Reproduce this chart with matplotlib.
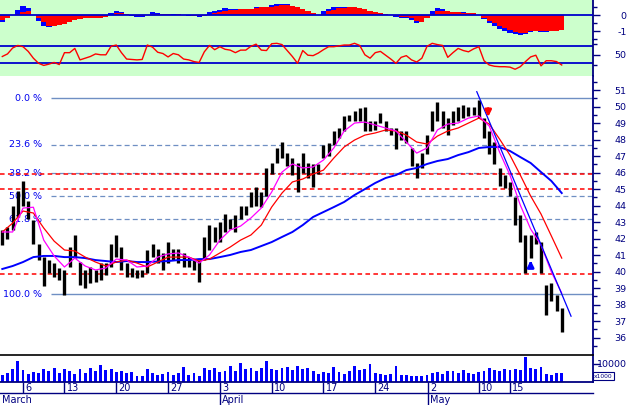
import matplotlib
matplotlib.use("Agg")
import matplotlib.pyplot as plt

# ---------------- data (bar index = half trading day) ----------------
bar_low = [
    41.6, 42.0, 42.5, 43.3, 44.0, 43.2, 41.7, 40.7, 39.1, 39.9,
    39.7, 39.5, 38.6, 40.3, 40.8, 39.2, 39.0, 39.3, 39.4, 39.5,
    39.8, 40.3, 40.9, 40.1, 39.7, 39.7, 39.6, 39.7, 39.9, 40.9,
    40.5, 40.1, 40.5, 40.7, 40.5, 40.3, 40.3, 40.1, 39.4, 40.7,
    41.3, 41.8, 41.8, 42.4, 42.6, 42.4, 43.2, 43.4, 43.9, 44.0,
    43.9, 44.6, 45.9, 46.6, 46.9, 46.4, 45.85, 44.8, 46.0, 45.7,
    45.1, 45.9, 46.9, 47.0, 47.7, 48.1, 48.5, 49.1, 49.1, 49.1,
    48.5, 48.5, 48.6, 49.0, 48.5, 48.3, 47.4, 48.0, 47.8, 46.4,
    45.7, 46.3, 47.1, 48.5, 49.1, 48.7, 48.3, 48.9, 49.1, 49.3,
    49.4, 49.5, 49.3, 48.1, 47.1, 46.5, 45.2, 45.05, 44.6, 42.8,
    41.8, 39.9, 40.8, 41.7, 39.9, 37.4, 38.2, 37.6, 36.35]
bar_high = [
    42.5, 42.7, 44.0, 44.9, 45.5, 44.3, 43.1, 41.7, 40.9, 40.7,
    40.5, 40.2, 40.1, 41.5, 42.2, 40.6, 40.1, 40.3, 40.1, 40.5,
    40.5, 41.7, 42.2, 41.5, 40.5, 40.2, 40.1, 40.1, 41.3, 41.7,
    41.4, 41.1, 41.8, 41.4, 41.4, 41.1, 40.9, 40.7, 40.7, 42.1,
    42.8, 42.7, 43.0, 43.5, 43.2, 43.4, 44.0, 44.0, 44.8, 45.1,
    44.8, 46.3, 46.6, 47.5, 47.85, 47.2, 46.9, 46.6, 47.2, 46.6,
    46.5, 46.5, 47.7, 47.8, 48.5, 48.7, 49.4, 49.5, 49.7, 49.9,
    50.0, 49.1, 49.1, 49.6, 49.1, 48.7, 48.7, 48.5, 48.5, 47.5,
    46.6, 47.2, 48.3, 49.7, 50.3, 49.7, 49.3, 49.7, 50.0, 50.1,
    50.0, 50.0, 50.4, 49.3, 48.5, 47.85, 46.3, 45.85, 45.4, 44.5,
    43.4, 42.2, 42.2, 42.4, 41.8, 39.2, 39.3, 38.6, 37.8]

ma_index = list(range(0, 109, 2))
ma_fast = [42.40, 42.40, 43.85, 43.90, 41.91, 40.95, 40.28, 40.82, 40.34, 40.10,
           40.22, 40.76, 40.70, 40.28, 40.34, 40.88, 41.07, 41.13, 40.88, 40.52,
           41.01, 41.91, 42.52, 42.76, 43.25, 43.85, 44.82, 46.03, 46.52, 46.28,
           46.34, 46.76, 47.49, 48.52, 49.00, 49.06, 48.88, 48.70, 48.52, 47.85,
           47.18, 47.49, 48.58, 48.94, 49.00, 49.30, 49.43, 48.82, 47.24, 45.85,
           44.03, 42.58, 41.61, 39.98, 38.70]
ma_mid = [42.40, 42.94, 43.67, 43.55, 42.64, 41.85, 41.31, 41.25, 40.88, 40.58,
          40.34, 40.58, 40.70, 40.52, 40.28, 40.58, 40.88, 40.88, 40.88, 40.64,
          40.76, 41.13, 41.49, 41.91, 42.22, 42.82, 43.91, 44.76, 45.43, 45.61,
          45.91, 46.15, 46.88, 47.55, 47.97, 48.27, 48.40, 48.58, 48.52, 48.27,
          47.85, 47.73, 48.21, 48.52, 48.70, 49.00, 49.30, 48.94, 48.03, 47.06,
          45.85, 44.58, 43.49, 42.16, 40.82]
ma_slow = [40.16, 40.34, 40.58, 40.88, 40.95, 40.95, 40.88, 40.88, 40.82, 40.70,
           40.64, 40.58, 40.64, 40.58, 40.58, 40.61, 40.64, 40.70, 40.70, 40.76,
           40.76, 40.88, 41.01, 41.19, 41.31, 41.55, 41.79, 42.10, 42.40, 42.82,
           43.31, 43.61, 43.91, 44.22, 44.64, 45.00, 45.37, 45.67, 45.85, 46.15,
           46.28, 46.52, 46.70, 46.82, 47.06, 47.24, 47.49, 47.55, 47.55, 47.31,
           46.94, 46.58, 46.03, 45.49, 44.76]

trend_x = [91.6, 109.8]
trend_y = [50.9, 37.3]

volume_k = [
    4.0, 5.0, 7.0, 11.5, 6.5, 4.5, 5.5, 5.0, 7.0, 6.0,
    7.5, 5.0, 7.0, 6.0, 4.5, 7.0, 5.0, 7.5, 6.0, 9.5,
    6.5, 7.0, 5.5, 6.0, 5.0, 5.5, 3.5, 3.0, 7.0, 5.0,
    4.0, 4.5, 5.5, 4.0, 5.0, 8.5, 4.0, 5.0, 3.5, 8.0,
    6.5, 7.5, 5.5, 6.0, 9.0, 6.0, 10.5, 7.0, 7.5, 6.0,
    8.0, 11.5, 7.0, 6.5, 7.5, 8.5, 6.5, 9.0, 7.0, 8.0,
    6.0, 4.5, 5.5, 5.0, 8.5, 5.5, 4.5, 6.0, 9.0, 6.5,
    7.0, 10.0, 5.0, 4.5, 4.0, 4.5, 9.0, 4.0, 4.0, 3.5,
    3.5, 3.0, 4.0, 5.0, 5.5, 4.5, 6.0, 6.0, 5.0, 6.5,
    5.0, 4.5, 5.5, 6.0, 8.0, 6.5, 6.0, 7.0, 6.5, 7.0,
    6.5, 14.0, 8.0, 7.0, 8.5, 4.5, 4.0, 5.0, 5.0]

macd_blue = [
    -0.45, -0.20, 0.05, 0.35, 0.60, 0.45, 0.05, -0.35, -0.70, -0.72,
    -0.62, -0.60, -0.50, -0.35, -0.20, -0.20, -0.15, -0.15, -0.15, -0.12,
    -0.05, 0.15, 0.30, 0.20, 0.05, -0.05, -0.08, -0.08, 0.05, 0.20,
    0.15, 0.10, 0.05, 0.08, 0.08, 0.02, -0.02, -0.05, -0.10, 0.00,
    0.20, 0.30, 0.35, 0.45, 0.40, 0.38, 0.40, 0.42, 0.42, 0.55,
    0.55, 0.50, 0.65, 0.75, 0.75, 0.70, 0.55, 0.35, 0.30, 0.20,
    0.10, 0.05, 0.25, 0.40, 0.50, 0.50, 0.50, 0.52, 0.50, 0.45,
    0.30, 0.25, 0.15, 0.12, 0.08, 0.05, -0.10, -0.15, -0.15, -0.30,
    -0.50, -0.45, -0.10, 0.25, 0.45, 0.40, 0.25, 0.20, 0.20, 0.18,
    0.15, 0.15, 0.05, -0.25, -0.50, -0.65, -0.85, -1.00, -1.10, -1.20,
    -1.25, -1.20, -1.05, -1.00, -1.05, -1.05, -1.00, -1.00, -0.95]
macd_red = [
    -0.30, -0.15, 0.00, 0.10, 0.20, 0.30, 0.05, -0.15, -0.45, -0.65,
    -0.65, -0.62, -0.55, -0.45, -0.30, -0.22, -0.20, -0.18, -0.18, -0.15,
    -0.10, 0.00, 0.12, 0.15, 0.08, 0.00, -0.03, -0.05, 0.00, 0.08,
    0.10, 0.08, 0.06, 0.05, 0.06, 0.03, 0.00, -0.02, -0.05, -0.03,
    0.05, 0.15, 0.22, 0.30, 0.32, 0.35, 0.38, 0.40, 0.40, 0.45,
    0.50, 0.50, 0.55, 0.62, 0.68, 0.68, 0.60, 0.50, 0.40, 0.25,
    0.12, 0.05, 0.10, 0.25, 0.35, 0.45, 0.48, 0.50, 0.50, 0.48,
    0.40, 0.30, 0.18, 0.12, 0.08, 0.05, -0.05, -0.10, -0.12, -0.20,
    -0.35, -0.40, -0.15, 0.10, 0.25, 0.30, 0.25, 0.20, 0.18, 0.15,
    0.15, 0.12, 0.05, -0.15, -0.35, -0.50, -0.65, -0.80, -0.95, -1.05,
    -1.10, -1.10, -1.00, -1.00, -1.00, -1.00, -1.00, -1.00, -0.95]

rsi = [
    46, 52, 66, 72, 69, 58, 42, 30, 25, 28,
    32, 27, 55, 55, 65, 38, 42, 46, 52, 50,
    50, 70, 73, 55, 40, 39, 38, 39, 73, 68,
    56, 53, 45, 53, 50, 40, 38, 34, 32, 57,
    72, 62, 69, 63, 61, 55, 61, 61, 70, 75,
    61, 60, 76, 77, 74, 60, 46, 30, 60, 49,
    48, 54, 62, 69, 69, 71, 73, 73, 77, 72,
    50, 42, 55, 58, 49, 40, 30, 44, 48, 38,
    33, 42, 70, 77, 74, 72, 44, 55, 65, 60,
    57, 64, 69, 36, 26, 23, 22, 22, 21, 16,
    22, 34, 45, 49, 24, 36, 36, 34, 26]
rsi_bands = [70, 30]

fib_high = 50.5
fib_low = 38.63
fib_ratios = [0.0, 0.236, 0.382, 0.5, 0.618, 1.0]
fib_labels = ['0.0 %', '23.6 %', '38.2 %', '50.0 %', '61.8 %', '100.0 %']
support_levels = [45.9, 45.0, 39.85]

sell_arrow = (93.8, 50.05, 49.2)   # x, tail, tip
buy_arrow = (102.0, 40.15, 40.85)

day_tick_pos = [4, 12, 22, 32, 42, 52, 62, 72, 82.2, 92, 98]
day_tick_labels = ['6', '13', '20', '27', '3', '10', '17', '24', '2', '10', '15']
month_pos = [-0.45, 42, 82.2]
month_labels = ['March', 'April', 'May']

# ---------------- figure ----------------
W, H = 630, 405
fig = plt.figure(figsize=(6.3, 4.05), dpi=100)
fig.patch.set_facecolor('white')
plt.rcParams['font.family'] = ['DejaVu Sans']

NAVY = '#000080'
GREEN = '#ccffcc'
XLIM = (-0.444, 113.98)
idx = list(range(len(bar_low)))


def px_axes(top, bottom, left=0.0, right=592.7):
    return fig.add_axes([left / W, 1 - bottom / H, (right - left) / W, (bottom - top) / H])


def style(a, face):
    a.set_facecolor(face)
    for s in ['left', 'top', 'bottom']:
        a.spines[s].set_visible(False)
    a.spines['right'].set_color(NAVY)
    a.spines['right'].set_linewidth(1.3)
    a.set_xlim(*XLIM)
    a.set_xticks([])
    a.yaxis.tick_right()
    a.tick_params(axis='y', which='major', length=5, width=1, color=NAVY,
                  labelcolor=NAVY, labelsize=6.8, pad=19.5)
    a.tick_params(axis='y', which='minor', length=3, width=1, color=NAVY)


def right_align(a):
    for lbl in a.get_yticklabels():
        lbl.set_horizontalalignment('right')


ax1 = px_axes(0, 40)
ax2 = px_axes(40, 76)
ax = px_axes(76, 354)
axv = px_axes(355, 381.7)
axd = px_axes(381.7, 405)

# ---- MACD-style histogram panel
style(ax1, GREEN)
ax1.bar(idx, macd_blue, width=1.0, color='#0000ff', linewidth=0)
ax1.bar(idx, macd_red, width=1.0, color='#ff0000', linewidth=0)
ax1.axhline(0, color='#0000cc', lw=1.3, zorder=5)
ax1.set_ylim(-1.573, 0.975)
ax1.set_yticks([0, -1])
ax1.set_yticklabels(['0', '-1'])
ax1.set_yticks([0.5, -0.5, -1.5], minor=True)
right_align(ax1)

# ---- RSI panel
style(ax2, GREEN)
for b in rsi_bands:
    ax2.axhline(b, color='#0000cc', lw=1.3)
ax2.plot(idx, rsi, color='#ff0000', lw=1.0)
ax2.set_ylim(0.1, 84.8)
ax2.set_yticks([50])
ax2.set_yticklabels(['50'])
ax2.set_yticks([25, 75], minor=True)
right_align(ax2)

# ---- main price panel
style(ax, 'white')
ax.set_ylim(35.01, 51.85)
for r, lab in zip(fib_ratios, fib_labels):
    lvl = fib_high - r * (fib_high - fib_low)
    solid = r in (0.0, 1.0)
    ax.hlines(lvl, 9.4, XLIM[1], color='#6f8fc3', lw=1.0 if solid else 0.9,
              linestyles='solid' if solid else (0, (4, 2.5)), zorder=1)
    ax.text(7.66, lvl, lab, ha='right', va='center', color='#0000ee', fontsize=6.8, zorder=1)
for lvl in support_levels:
    ax.axhline(lvl, color='#ff0000', lw=1.1, ls=(0, (3, 2.2)), zorder=2)
ax.vlines(idx, bar_low, bar_high, color='black', lw=2.4, zorder=3)
ax.plot(ma_index, ma_slow, color='#0000ff', lw=1.4, zorder=4)
ax.plot(ma_index, ma_mid, color='#ff0000', lw=0.9, zorder=4)
ax.plot(ma_index, ma_fast, color='#ff00ff', lw=0.9, zorder=4)
ax.plot(trend_x, trend_y, color='#0000ff', lw=0.9, zorder=4)
ax.annotate('', xy=(sell_arrow[0], sell_arrow[2]), xytext=(sell_arrow[0], sell_arrow[1]),
            arrowprops=dict(arrowstyle='-|>', color='#ff0000', lw=2, mutation_scale=9), zorder=6)
ax.annotate('', xy=(buy_arrow[0], buy_arrow[2]), xytext=(buy_arrow[0], buy_arrow[1]),
            arrowprops=dict(arrowstyle='-|>', color='#0000ff', lw=2, mutation_scale=9), zorder=6)
ax.set_yticks(list(range(36, 52)))
ax.set_yticklabels([str(v) for v in range(36, 52)])
ax.set_yticks([v + 0.5 for v in range(35, 52)], minor=True)
right_align(ax)

# ---- volume panel
style(axv, 'white')
axv.spines['top'].set_visible(True)
axv.spines['top'].set_color('black')
axv.spines['top'].set_linewidth(1.2)
axv.bar(idx, volume_k, width=0.55, color='#0000ff', linewidth=0)
axv.set_ylim(0, 15.08)
axv.set_yticks([10])
axv.set_yticklabels(['10000'])
right_align(axv)
fig.text(603.5 / W, 1 - 376 / H, 'x1000', ha='center', va='center', fontsize=4.3, color=NAVY,
         bbox=dict(boxstyle='square,pad=0.2', fc='white', ec=NAVY, lw=0.8))

# ---- date axis
axd.set_xlim(*XLIM)
axd.set_ylim(0, 1)
axd.axis('off')
axd.axhline(1.0, color=NAVY, lw=1.3, clip_on=False)
axd.axhline(0.502, color=NAVY, lw=1.0, clip_on=False)
axd.vlines(day_tick_pos, 0.502, 1.0, color=NAVY, lw=1.0)
for p, lab in zip(day_tick_pos, day_tick_labels):
    axd.text(p + 0.4, 0.74, lab, ha='left', va='center', fontsize=7, color=NAVY)
for p, lab in zip(month_pos, month_labels):
    if p > 0:
        axd.vlines(p, 0.0, 0.502, color=NAVY, lw=1.0)
    axd.text(p + 0.4, 0.22, lab, ha='left', va='center', fontsize=7, color=NAVY, clip_on=False)

fig.savefig('out.png', dpi=100)
